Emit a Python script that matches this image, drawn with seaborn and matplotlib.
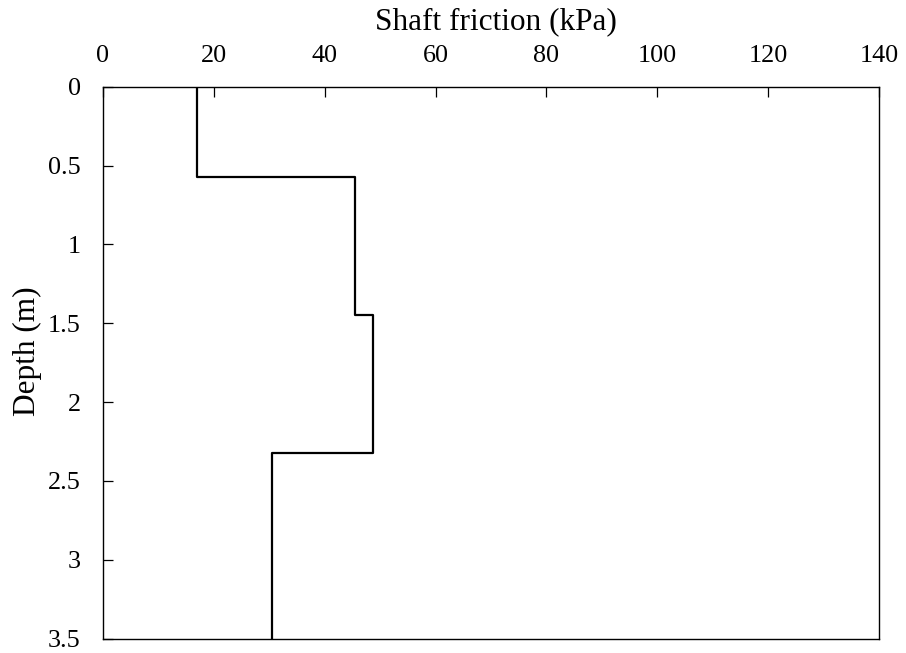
import numpy as np
import pandas as pd
import matplotlib
matplotlib.use("Agg")
import matplotlib.pyplot as plt
import seaborn as sns

# Layered shaft friction profile
layer_top = [0.0, 0.575, 1.45, 2.325]
layer_bottom = [0.575, 1.45, 2.325, 3.5]
friction = [17.0, 45.5, 48.7, 30.5]

x_ticks = [0, 20, 40, 60, 80, 100, 120, 140]
y_ticks = [0, 0.5, 1, 1.5, 2, 2.5, 3, 3.5]
y_ticklabels = ["0", "0.5", "1", "1.5", "2", "2.5", "3", "3.5"]

# Build a stepped profile: each layer contributes its top and bottom point
xs, ys = [], []
for f, t, b in zip(friction, layer_top, layer_bottom):
    xs += [f, f]
    ys += [t, b]
profile = pd.DataFrame({"friction": xs, "depth": ys})

sns.set_style("white")
plt.rcParams["font.family"] = ["Liberation Serif", "DejaVu Serif"]
plt.rcParams["text.color"] = "black"
plt.rcParams["axes.labelcolor"] = "black"

fig = plt.figure(figsize=(9.06, 6.53), dpi=100)
ax = fig.add_axes([0.1134, 0.0219, 0.8571, 0.8453])

sns.lineplot(data=profile, x="friction", y="depth", sort=False, estimator=None,
             color="black", linewidth=1.6, ax=ax)

ax.set_xlim(0, 140)
ax.set_ylim(3.5, 0)
ax.xaxis.tick_top()
ax.xaxis.set_label_position("top")
ax.set_xticks(x_ticks)
ax.set_yticks(y_ticks)
ax.set_yticklabels(y_ticklabels)
ax.tick_params(axis="x", direction="in", length=7, width=0.9, pad=14.5,
               labelsize=18.8, colors="black", top=True, bottom=False)
ax.tick_params(axis="y", direction="in", length=7, width=0.9, pad=16,
               labelsize=18.8, colors="black", left=True, right=False)
ax.set_xlabel("Shaft friction (kPa)", fontsize=22.5, labelpad=11, color="black")
ax.set_ylabel("Depth (m)", fontsize=22.5, labelpad=4, color="black")
ax.xaxis.label.set_x(0.506)
ax.yaxis.label.set_y(0.521)

for s in ax.spines.values():
    s.set_color("black")
    s.set_linewidth(1.0)
    s.set_visible(True)

fig.savefig("out.png", dpi=100, facecolor="white")
